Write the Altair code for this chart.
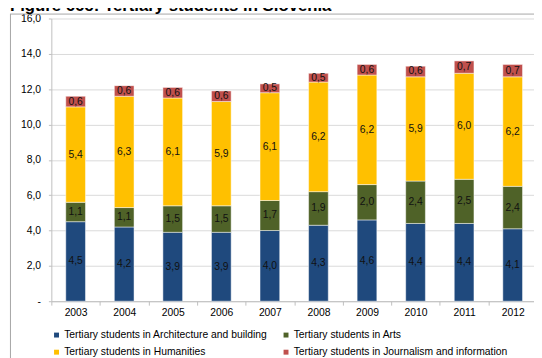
import altair as alt
import pandas as pd

years = ["2003", "2004", "2005", "2006", "2007", "2008", "2009", "2010", "2011", "2012"]
arch = [4.5, 4.2, 3.9, 3.9, 4.0, 4.3, 4.6, 4.4, 4.4, 4.1]
arts = [1.1, 1.1, 1.5, 1.5, 1.7, 1.9, 2.0, 2.4, 2.5, 2.4]
hum = [5.4, 6.3, 6.1, 5.9, 6.1, 6.2, 6.2, 5.9, 6.0, 6.2]
jour = [0.6, 0.6, 0.6, 0.6, 0.5, 0.5, 0.6, 0.6, 0.7, 0.7]
series = [
    "Tertiary students in Architecture and building",
    "Tertiary students in Arts",
    "Tertiary students in Humanities",
    "Tertiary students in Journalism and information",
]
colors = ["#1F497D", "#4F6228", "#FFC000", "#C0504D"]
y_ticks = [0, 2, 4, 6, 8, 10, 12, 14, 16]
title_text = "Figure 66c: Tertiary students in Slovenia"

rows = []
for i, (name, vals) in enumerate(zip(series, [arch, arts, hum, jour])):
    for yr, v in zip(years, vals):
        rows.append({"year": yr, "series": name, "order": i, "value": v})
df = pd.DataFrame(rows)

FONT = "Liberation Sans, Arial, sans-serif"

base = alt.Chart(df).transform_stack(
    stack="value",
    groupby=["year"],
    sort=[alt.SortField("order", "ascending")],
    as_=["y0", "y1"],
).transform_calculate(
    mid="(datum.y0 + datum.y1) / 2",
    label="replace(format(datum.value, '.1f'), '.', ',')",
)

x_scale = alt.Scale(range=[0, 493], paddingInner=0, paddingOuter=0)
x_axis = alt.Axis(
    title=None, labelAngle=0, tickBand="extent", tickSize=4,
    labelPadding=3, domainColor="#bfbfbf", tickColor="#bfbfbf",
)
y_scale = alt.Scale(domain=[0, 16], nice=False, zero=True)
y_axis = alt.Axis(
    title=None, values=y_ticks, grid=True, gridColor="#d9d9d9",
    tickSize=3, labelPadding=8, domainColor="#bfbfbf", tickColor="#bfbfbf",
    labelOverlap=False, labelFlush=False,
    labelExpr="datum.value == 0 ? '-' : replace(format(datum.value, '.1f'), '.', ',')",
)

bars = base.mark_bar(size=20, stroke="white", strokeWidth=0.8, strokeOpacity=0.6).encode(
    x=alt.X("year:N", sort=years, scale=x_scale, axis=x_axis),
    y=alt.Y("y0:Q", scale=y_scale, axis=y_axis),
    y2="y1:Q",
    color=alt.Color(
        "series:N",
        scale=alt.Scale(domain=series, range=colors),
        legend=alt.Legend(
            orient="none", direction="horizontal", legendX=0, legendY=316, columns=2, title=None,
            symbolType="square", symbolSize=25, symbolStrokeWidth=0,
            labelFontSize=10.5, labelFont=FONT, labelColor="#000",
            labelOffset=2.5, columnPadding=13, rowPadding=6.5, labelLimit=400,
        ),
    ),
)

labels = base.mark_text(fontSize=10.5, font=FONT, color="#111").encode(
    x=alt.X("year:N", sort=years, scale=x_scale, axis=x_axis),
    y=alt.Y("mid:Q", scale=y_scale, axis=y_axis),
    text=alt.Text("label:N"),
)

title = alt.Chart(pd.DataFrame({"t": [title_text]})).mark_text(
    align="left", baseline="alphabetic", fontSize=17, fontWeight="bold", font=FONT, color="#000"
).encode(x=alt.value(-42), y=alt.value(-7.5), text="t:N")

frame_top = alt.Chart(pd.DataFrame({"a": [0]})).mark_rule(color="#a6a6a6", strokeWidth=1).encode(
    x=alt.value(-42), x2=alt.value(495), y=alt.value(-4.5)
)
frame_left = alt.Chart(pd.DataFrame({"a": [0]})).mark_rule(color="#a6a6a6", strokeWidth=1).encode(
    x=alt.value(-41.5), y=alt.value(-4.5), y2=alt.value(345)
)

chart = alt.layer(bars, labels, frame_top, frame_left, title).properties(
    width=490,
    height=287,
    autosize=alt.AutoSizeParams(type="none"),
    padding={"left": 44, "top": 8, "right": 0, "bottom": 55},
).configure_view(stroke=None).configure_axis(
    labelFont=FONT, labelFontSize=10.5, labelColor="#000"
)

chart.save("out.html", embed_options={"renderer": "svg", "actions": False})
